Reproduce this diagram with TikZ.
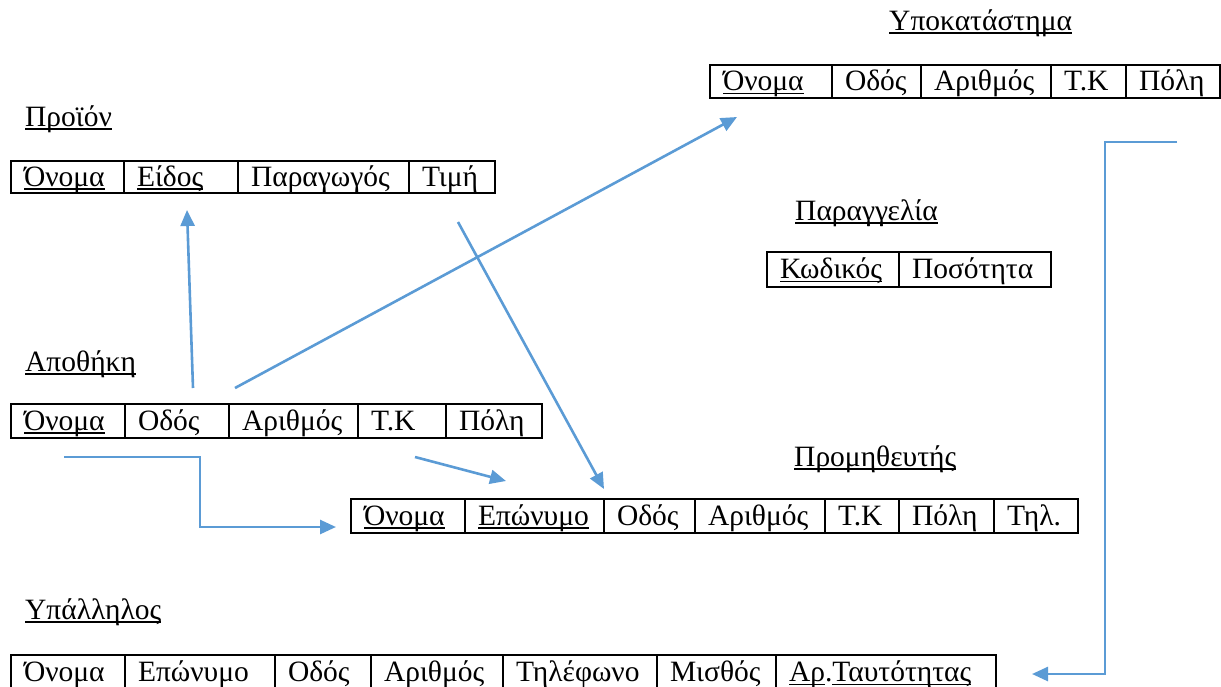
\documentclass[tikz,border=0pt]{standalone}
\usepackage{fontspec}
\setmainfont{Liberation Serif}
\usetikzlibrary{arrows.meta}
\definecolor{arrowblue}{RGB}{91,155,213}
\newsavebox\ulnbox
\newcommand\uln[1]{\sbox\ulnbox{#1}\rlap{\rule[-3.8pt]{\wd\ulnbox}{1.7pt}}\usebox\ulnbox}
\newcommand\mkcell[6]{%
  \pgfmathsetmacro\cw{#3-#2-26}%
  \pgfmathsetmacro\ch{#5-#4}%
  \node[cell, text width=\cw pt, minimum height=\ch pt] (#1) at (#2,#4) {#6};}
\begin{document}
\begin{tikzpicture}[x=1pt,y=-1pt,
  cell/.style={draw, line width=2pt, inner ysep=0pt, inner xsep=13pt, anchor=north west,
    align=left, font=\fontsize{29.5}{32}\selectfont, text height=22pt, text depth=4pt},
  title/.style={anchor=base west, inner sep=0pt, font=\fontsize{29.5}{32}\selectfont},
  link/.style={draw=arrowblue, line width=2.6pt, -{Triangle[length=16pt,width=14pt]}}]
\useasboundingbox (0,0) rectangle (1221,686);
\clip (0,0) rectangle (1221,686);
% Προϊόν
\node[title] (tp) at (25,126) {\uln{Προϊόν}};
\mkcell{p1}{10}{123}{160}{192}{\uln{Όνομα}}
\mkcell{p2}{123}{237}{160}{192}{\uln{Είδος}}
\mkcell{p3}{237}{408}{160}{192}{Παραγωγός}
\mkcell{p4}{408}{494}{160}{192}{Τιμή}
% Υποκατάστημα
\node[title] (tu) at (889,30) {\uln{Υποκατάστημα}};
\mkcell{u1}{709}{831}{64}{97}{\uln{Όνομα}}
\mkcell{u2}{831}{920}{64}{97}{Οδός}
\mkcell{u3}{920}{1050}{64}{97}{Αριθμός}
\mkcell{u4}{1050}{1125}{64}{97}{Τ.Κ}
\mkcell{u5}{1125}{1219}{64}{97}{Πόλη}
% Παραγγελία
\node[title] (tg) at (795,220) {\uln{Παραγγελία}};
\mkcell{g1}{766}{898}{251}{286}{\uln{Κωδικός}}
\mkcell{g2}{898}{1050}{251}{286}{Ποσότητα}
% Αποθήκη
\node[title] (ta) at (25,371) {\uln{Αποθήκη}};
\mkcell{a1}{10}{124}{403}{437}{\uln{Όνομα}}
\mkcell{a2}{124}{228}{403}{437}{Οδός}
\mkcell{a3}{228}{357}{403}{437}{Αριθμός}
\mkcell{a4}{357}{445}{403}{437}{Τ.Κ}
\mkcell{a5}{445}{541}{403}{437}{Πόλη}
% Προμηθευτής
\node[title] (tm) at (794,466) {\uln{Προμηθευτής}};
\mkcell{m1}{350}{464}{498}{532}{\uln{Όνομα}}
\mkcell{m2}{464}{603}{498}{532}{\uln{Επώνυμο}}
\mkcell{m3}{603}{694}{498}{532}{Οδός}
\mkcell{m4}{694}{824}{498}{532}{Αριθμός}
\mkcell{m5}{824}{898}{498}{532}{Τ.Κ}
\mkcell{m6}{898}{993}{498}{532}{Πόλη}
\mkcell{m7}{993}{1077}{498}{532}{Τηλ.}
% Υπάλληλος
\node[title] (te) at (25,619) {\uln{Υπάλληλος}};
\mkcell{e1}{10}{124}{654}{689}{Όνομα}
\mkcell{e2}{124}{274}{654}{689}{Επώνυμο}
\mkcell{e3}{274}{370}{654}{689}{Οδός}
\mkcell{e4}{370}{502}{654}{689}{Αριθμός}
\mkcell{e5}{502}{656}{654}{689}{Τηλέφωνο}
\mkcell{e6}{656}{775}{654}{689}{Μισθός}
\mkcell{e7}{775}{995}{654}{689}{\uln{Αρ}.\uln{Ταυτότητας}}
% connector end points
\coordinate (s1) at (193,388);
\coordinate (d1) at (187,210);
\coordinate (s2) at (235,388);
\coordinate (d2) at (737,117);
\coordinate (s3) at (458,222);
\coordinate (d3) at (604,489);
\coordinate (s4) at (415,457);
\coordinate (d4) at (506,481);
\coordinate (s5) at (64,457);
\coordinate (d5) at (336,527);
\coordinate (s6) at (1177,142);
\coordinate (d6) at (1032,674);
\draw[link] (s1) -- (d1);
\draw[link] (s2) -- (d2);
\draw[link] (s3) -- (d3);
\draw[link] (s4) -- (d4);
\draw[link] (s5) -| (200,492) |- (d5);
\draw[link] (s6) -| (1105,400) |- (d6);
\end{tikzpicture}
\end{document}
